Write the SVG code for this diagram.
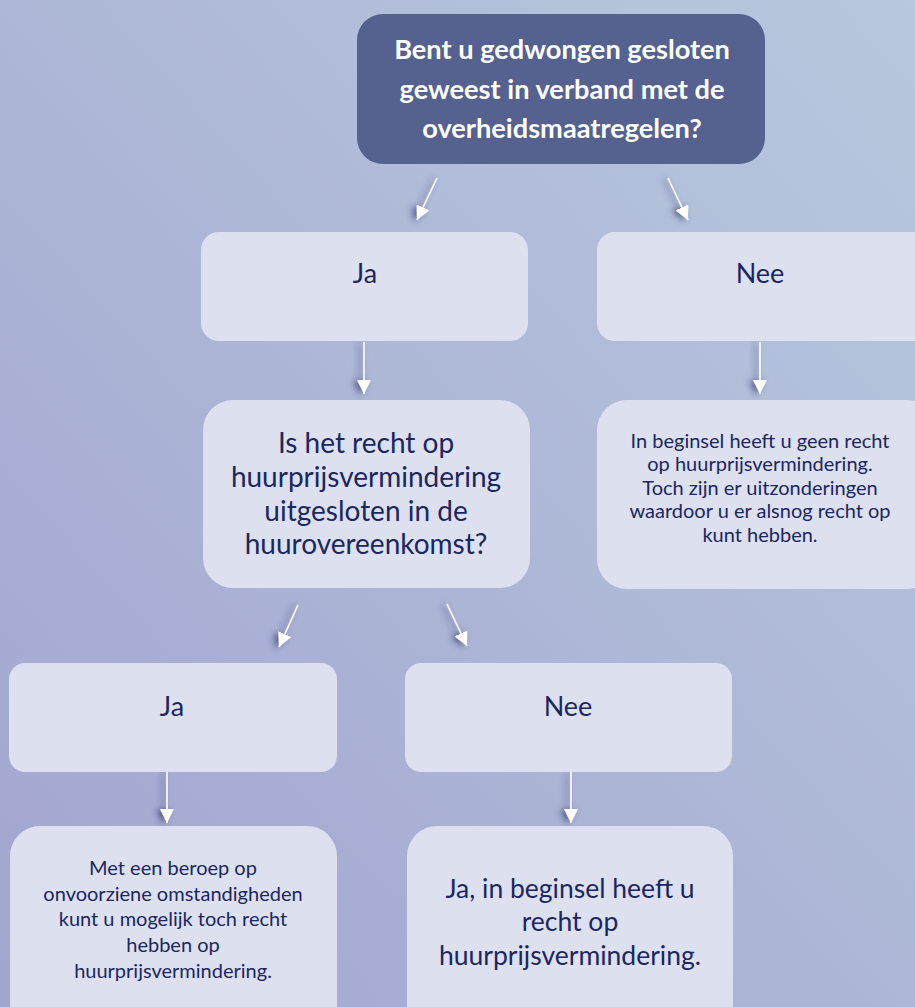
<svg xmlns="http://www.w3.org/2000/svg" width="915" height="1007" viewBox="0 0 915 1007">
<defs>
<linearGradient id="bg" x1="0" y1="1" x2="1" y2="0">
<stop offset="0" stop-color="#a2a5cf"/>
<stop offset="1" stop-color="#b8c8de"/>
</linearGradient>
<marker id="ah" viewBox="0 0 14 14" refX="14" refY="7" markerWidth="14" markerHeight="14" markerUnits="userSpaceOnUse" orient="auto">
<path d="M0,0 L14,7 L0,14 Z" fill="#ffffff"/>
</marker>
<filter id="sh" filterUnits="userSpaceOnUse" x="0" y="0" width="915" height="1007">
<feDropShadow dx="-4" dy="1" stdDeviation="3" flood-color="#2e3366" flood-opacity="0.7"/>
</filter>
<style>
.box{fill:#dde0ef;}
.t{font-family:Lato,"Open Sans",sans-serif;fill:#1b275f;text-anchor:middle;}
.top{font-family:Lato,"Open Sans",sans-serif;fill:#ffffff;font-weight:bold;font-size:27.2px;text-anchor:middle;}
.ar{stroke:#ffffff;stroke-width:1.6;fill:none;marker-end:url(#ah);}
</style>
</defs>
<rect x="0" y="0" width="915" height="1007" fill="url(#bg)"/>

<g id="connectors" filter="url(#sh)">
<line class="ar" x1="437" y1="178" x2="417" y2="220"/>
<line class="ar" x1="668" y1="178" x2="688" y2="220"/>
<line class="ar" x1="364" y1="342" x2="364" y2="394"/>
<line class="ar" x1="760" y1="342" x2="760" y2="394"/>
<line class="ar" x1="298" y1="605" x2="279" y2="647"/>
<line class="ar" x1="447" y1="604" x2="467" y2="646"/>
<line class="ar" x1="167" y1="772" x2="167" y2="823"/>
<line class="ar" x1="571" y1="772" x2="571" y2="823"/>
</g>

<g id="q1">
<rect x="357" y="14" width="408" height="150" rx="26" fill="#55628f"/>
<text class="top" x="562" y="59">Bent u gedwongen gesloten</text>
<text class="top" x="562" y="99">geweest in verband met de</text>
<text class="top" x="562" y="138">overheidsmaatregelen?</text>
</g>

<g id="ja1">
<rect class="box" x="201" y="232" width="327" height="109" rx="18"/>
<text class="t" x="365" y="283" font-size="27">Ja</text>
</g>

<g id="nee1">
<rect class="box" x="597" y="232" width="340" height="109" rx="18"/>
<text class="t" x="760" y="283" font-size="27">Nee</text>
</g>

<g id="q2">
<rect class="box" x="203" y="400" width="327" height="188" rx="30"/>
<text class="t" x="366" y="453" font-size="28">Is het recht op</text>
<text class="t" x="366" y="487" font-size="28">huurprijsvermindering</text>
<text class="t" x="366" y="521" font-size="28">uitgesloten in de</text>
<text class="t" x="366" y="554" font-size="28">huurovereenkomst?</text>
</g>

<g id="nee1-result">
<rect class="box" x="597" y="400" width="340" height="189" rx="30"/>
<text class="t" x="760" y="448" font-size="20">In beginsel heeft u geen recht</text>
<text class="t" x="760" y="471" font-size="20">op huurprijsvermindering.</text>
<text class="t" x="760" y="495" font-size="20">Toch zijn er uitzonderingen</text>
<text class="t" x="760" y="518" font-size="20">waardoor u er alsnog recht op</text>
<text class="t" x="760" y="542" font-size="20">kunt hebben.</text>
</g>

<g id="ja2">
<rect class="box" x="9" y="663" width="328" height="109" rx="16"/>
<text class="t" x="172" y="716" font-size="27">Ja</text>
</g>

<g id="nee2">
<rect class="box" x="405" y="663" width="327" height="109" rx="16"/>
<text class="t" x="568" y="716" font-size="27">Nee</text>
</g>

<g id="ja2-result">
<rect class="box" x="10" y="826" width="327" height="220" rx="30"/>
<text class="t" x="173" y="875" font-size="20">Met een beroep op</text>
<text class="t" x="173" y="901" font-size="20">onvoorziene omstandigheden</text>
<text class="t" x="173" y="926" font-size="20">kunt u mogelijk toch recht</text>
<text class="t" x="173" y="952" font-size="20">hebben op</text>
<text class="t" x="173" y="978" font-size="20">huurprijsvermindering.</text>
</g>

<g id="nee2-result">
<rect class="box" x="407" y="826" width="326" height="220" rx="30"/>
<text class="t" x="570" y="898" font-size="26.5">Ja, in beginsel heeft u</text>
<text class="t" x="570" y="931" font-size="26.5">recht op</text>
<text class="t" x="570" y="965" font-size="26.5">huurprijsvermindering.</text>
</g>
</svg>
